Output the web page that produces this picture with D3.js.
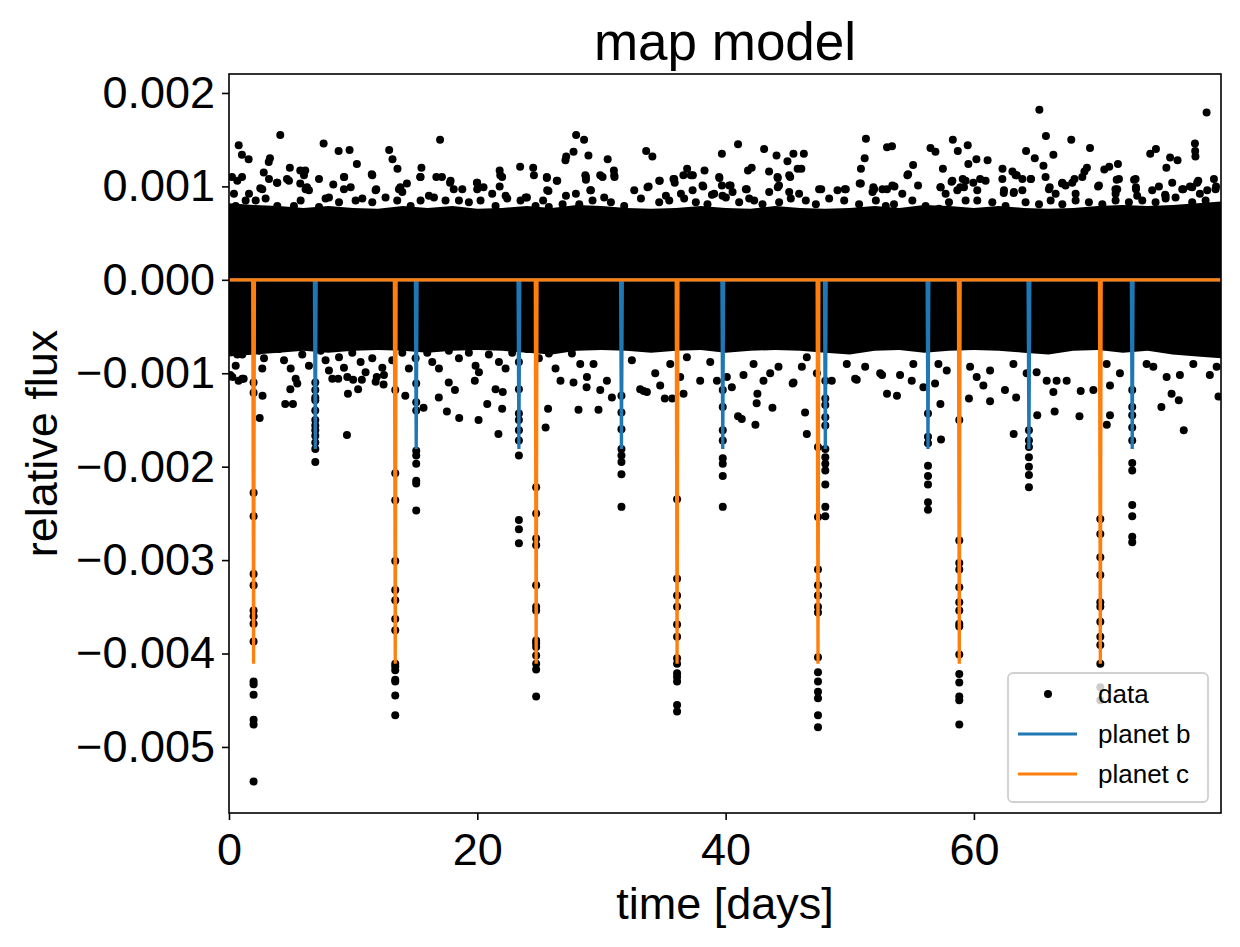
<!DOCTYPE html>
<html>
<head>
<meta charset="utf-8">
<script src="https://cdn.jsdelivr.net/npm/d3@7"></script>
<style>
  body { margin: 0; background: #fff; }
  svg text { font-family: "Liberation Sans", Arial, sans-serif; }
</style>
</head>
<body>
<div id="chart"></div>
<script>
// transit centres (days) and model depths
var planetBTimes = [6.95, 15.08, 23.35, 31.61, 39.77, 48.03, 56.30, 64.43, 72.75]
var planetCTimes = [1.98, 13.39, 24.74, 36.09, 47.44, 58.82, 70.18]
var planetBDepth = -0.00181
var planetCDepth = -0.00411

// solid core of the light curve: upper / lower edge every 2 days
var bandTime = d3.range(0, 81, 2)
var bandTop = [0.00082,0.0008,0.00079,0.00077,0.00079,0.00077,0.00076,0.00079,0.00077,0.00079,0.00076,0.00077,0.00079,0.00077,0.0008,0.00079,0.00077,0.00076,0.00077,0.00079,0.00077,0.00076,0.00079,0.00077,0.00076,0.00077,0.00079,0.00077,0.0008,0.00079,0.00077,0.00079,0.00077,0.00076,0.00077,0.00079,0.0008,0.00079,0.0008,0.00082,0.00084]
var bandBottom = [-0.00082,-0.0008,-0.00078,-0.00076,-0.00078,-0.00076,-0.00075,-0.00076,-0.00078,-0.00076,-0.00075,-0.00076,-0.00078,-0.0008,-0.00076,-0.00075,-0.00076,-0.00078,-0.00076,-0.00075,-0.00078,-0.00076,-0.00075,-0.00076,-0.00078,-0.0008,-0.00076,-0.00075,-0.00078,-0.00076,-0.00075,-0.00076,-0.00078,-0.0008,-0.00076,-0.00075,-0.00078,-0.00076,-0.0008,-0.00082,-0.00084]

// scattered points above the band [time, flux]
var upperPoints = [[4.13,0.00155],[0.78,0.00144],[1.04,0.00134],[1.58,0.00129],[7.62,0.00146],[8.83,0.00138],[9.71,0.00139],[10.3,0.00124],[12.9,0.00139],[13.17,0.00129],[13.57,0.00119],[17.0,0.0015],[15.5,0.0012],[11.5,0.00113],[23.45,0.00121],[24.5,0.0012],[25.6,0.0011],[3.3,0.0013],[3.2,0.00126],[4.9,0.0012],[5.74,0.00117],[6.14,0.00117],[9.28,0.0011],[15.4,0.0011],[16.7,0.0011],[17.15,0.0011],[21.8,0.00117],[21.85,0.00112],[21.8,0.001],[2.8,0.00115],[0.24,0.0011],[1.05,0.0011],[3.86,0.00104],[4.67,0.00108],[8.4,0.00102],[11.86,0.00097],[19.97,0.00104],[20.5,0.00099],[5.74,0.00103],[6.28,0.00099],[2.52,0.00098],[13.8,0.00099],[14.33,0.00103],[17.8,0.00104],[18.1,0.00097],[24.0,0.00088],[25.3,0.00085],
  [27.96,0.00155],[28.6,0.0015],[27.75,0.00137],[27.16,0.00132],[27.1,0.00128],[28.95,0.00133],[30.5,0.00129],[33.6,0.00138],[34.1,0.00132],[31.0,0.00117],[31.05,0.0011],[29.9,0.00112],[28.7,0.00112],[28.75,0.00107],[25.6,0.00109],[26.4,0.00106],[25.73,0.00095],[29.1,0.00096],[33.8,0.001],[34.7,0.00106],[35.8,0.00108],[35.9,0.00104],[36.6,0.00112],[36.9,0.00119],[37.36,0.00112],[38.3,0.00117],[38.2,0.001],[38.9,0.00091],[39.7,0.00135],[41.0,0.00145],[39.5,0.00109],[39.7,0.00101],[40.4,0.00101],[41.7,0.00097],[41.8,0.00117],[42.1,0.0012],[43.1,0.0014],[43.5,0.00116],[44.1,0.00133],[44.2,0.00109],[44.3,0.00101],[44.98,0.00127],[45.46,0.00135],[46.3,0.00135],[45.2,0.0011],[45.8,0.00119],[46.1,0.00119],[47.7,0.00097],[49.6,0.00097],[50.8,0.00103],[50.9,0.00119],[51.2,0.0013],[51.3,0.00151],[51.9,0.00099],[53.0,0.00142],
  [53.4,0.00143],[56.5,0.00141],[56.9,0.00137],[58.3,0.0015],[58.7,0.00138],[59.5,0.00144],[59.55,0.00124],[60.2,0.00129],[61.1,0.00128],[55.1,0.00123],[54.7,0.00113],[55.5,0.00101],[57.5,0.00119],[58.2,0.00105],[65.27,0.00182],[65.8,0.00154],[64.2,0.00138],[64.9,0.0013],[65.6,0.00122],[66.4,0.00134],[67.84,0.0015],[69.35,0.00141],[62.3,0.00119],[63.1,0.00116],[63.45,0.00112],[64.6,0.00108],[62.4,0.00093],[63.2,0.00093],[69.1,0.0012],[68.9,0.00116],[70.5,0.00118],[70.9,0.00121],[71.6,0.00124],[71.5,0.00107],[71.4,0.00097],[70.0,0.001],[68.1,0.00108],[67.1,0.00103],[66.1,0.00099],[74.2,0.00135],[74.66,0.0014],[75.5,0.0012],[75.8,0.00131],[76.4,0.00128],[77.8,0.00146],[77.82,0.00138],[77.84,0.00132],[78.74,0.00179],[72.9,0.00107],[73.05,0.00099],[74.9,0.001],[75.4,0.00091],[76.86,0.00097],[77.4,0.001],[78.07,0.00106],[78.2,0.00092],[79.5,0.001],[53.0,0.00097],[53.6,0.001],[58.9,0.00099],[59.1,0.00108],[59.95,0.00104],[60.5,0.00108],[57.3,0.00099]]

// points along the ragged top edge of the band [time, flux]
var upperEdge = [[0.67,0.00106],[3.22,0.00108],[3.89,0.00104],[4.83,0.00106],[6.04,0.00112],[7.25,0.00108],[9.26,0.0011],[11.54,0.00112],[15.43,0.0011],[17.85,0.00106],[19.99,0.00104],[22.0,0.0011],[24.56,0.00112],[26.44,0.00106],
  [0.4,0.00092],[1.61,0.00092],[2.68,0.00097],[6.17,0.00097],[6.44,0.00096],[8.05,0.00088],[9.26,0.00097],[9.8,0.00099],[11.81,0.00096],[13.69,0.00097],[13.96,0.00094],[16.1,0.0009],[18.79,0.00097],[19.99,0.00097],[21.2,0.00092],[22.28,0.0009],[23.89,0.00088],[25.63,0.00096],
  [0.54,0.00079],[1.34,0.00085],[2.15,0.00085],[2.95,0.00087],[3.89,0.00079],[5.23,0.00079],[5.77,0.00085],[7.25,0.00078],[7.78,0.00087],[8.86,0.00083],[10.2,0.00085],[10.74,0.00087],[11.54,0.00083],[12.61,0.00088],[13.55,0.00085],[14.63,0.00079],[15.43,0.00085],[16.51,0.00088],[17.44,0.00085],[18.52,0.00085],[19.32,0.00083],[20.26,0.00085],[21.47,0.00079],[22.41,0.00087],[23.48,0.00085],[24.69,0.00079],[25.76,0.00078],
  [28.75,0.0011],[30.09,0.0011],[31.03,0.00112],[34.65,0.00106],[35.86,0.00108],[37.2,0.00112],[39.48,0.0011],[40.29,0.00101],[41.63,0.00097],[44.18,0.0011],[44.2,0.00099],[45.12,0.00112],[50.89,0.00103],[51.96,0.00097],
  [27.14,0.0009],[27.94,0.00092],[29.15,0.00096],[30.22,0.00088],[32.64,0.00096],[33.71,0.00099],[35.19,0.0009],[36.4,0.00092],[37.34,0.00096],[38.14,0.00101],[39.08,0.00092],[39.75,0.0009],[40.56,0.00094],[41.9,0.00087],[43.51,0.00094],[45.12,0.00094],[45.92,0.00092],[47.53,0.00097],[49.01,0.00096],[49.68,0.00097],[51.83,0.00094],[52.63,0.00097],
  [26.87,0.00081],[28.21,0.00081],[29.28,0.00085],[30.76,0.00083],[31.83,0.00079],[33.18,0.00087],[34.65,0.00083],[35.46,0.00085],[36.66,0.00087],[37.6,0.00083],[38.54,0.00081],[40.02,0.00088],[41.09,0.00083],[42.3,0.00085],[42.97,0.00081],[44.31,0.00083],[45.25,0.00087],[46.46,0.00085],[47.27,0.00081],[48.34,0.00087],[49.55,0.00085],[50.75,0.00081],[52.1,0.00085],[52.9,0.00079],
  [54.64,0.00112],[58.26,0.00106],[59.33,0.00106],[60.94,0.00106],[62.29,0.00108],[63.36,0.00112],[64.57,0.00108],[63.9,0.00108],[65.77,0.0011],[67.12,0.00104],[67.92,0.00104],[68.73,0.0011],[71.68,0.00108],[73.02,0.00108],[71.54,0.00097],[73.05,0.00097],[75.97,0.00104],[77.98,0.00104],[79.33,0.00108],
  [53.43,0.00101],[54.23,0.00092],[57.32,0.00099],[57.72,0.00092],[58.66,0.00096],[59.2,0.00099],[60.27,0.00096],[62.42,0.00096],[63.22,0.00094],[63.9,0.00096],[66.04,0.00097],[66.58,0.00092],[67.38,0.00101],[68.19,0.00092],[70.07,0.00101],[71.41,0.00092],[73.15,0.0009],[74.36,0.00096],[75.44,0.0009],[76.78,0.00097],[77.58,0.00099],[78.79,0.00096],[79.46,0.00097],
  [53.56,0.00081],[55.04,0.00085],[56.11,0.00079],[57.19,0.00076],[57.99,0.00083],[59.33,0.00085],[60.27,0.00085],[61.48,0.00083],[62.55,0.00079],[64.16,0.00083],[65.24,0.00081],[66.18,0.00085],[67.12,0.00081],[68.19,0.00085],[69.26,0.00083],[70.34,0.00081],[71.41,0.00085],[72.48,0.00083],[73.56,0.00085],[74.63,0.00083],[75.44,0.00087],[76.24,0.00088],[77.58,0.00083],[78.66,0.00085]]

// scattered points below the band [time, flux]
var lowerPoints = [[0.1,-0.00102],[0.77,-0.00108],[1.18,-0.00106],[2.7,-0.00124],[2.47,-0.00148],[4.53,-0.00133],[5.15,-0.00133],[4.94,-0.00117],[5.5,-0.00111],[9.5,-0.00166],[9.58,-0.00122],[10.4,-0.00117],[8.8,-0.00106],[10.0,-0.00107],[10.7,-0.00107],[12.45,-0.00112],[11.9,-0.00104],[14.2,-0.00124],[16.9,-0.00126],[17.55,-0.00141],[18.54,-0.00148],[20.1,-0.0015],[20.8,-0.00133],[21.7,-0.00165],[22.0,-0.00138],[22.05,-0.0012],[25.5,-0.00158],[25.7,-0.00138],[15.67,-0.00137],[17.7,-0.0011],[18.2,-0.00118],[19.8,-0.00108],
  [28.15,-0.00139],[29.76,-0.00139],[29.9,-0.00118],[33.4,-0.00119],[35.1,-0.00127],[35.7,-0.00127],[37.95,-0.00108],[39.3,-0.00108],[41.0,-0.00146],[41.3,-0.00149],[42.4,-0.00155],[42.56,-0.00122],[42.5,-0.00132],[43.77,-0.00137],[45.4,-0.00111],[46.4,-0.00142],[46.54,-0.00165],[50.56,-0.00107],[52.6,-0.00102],[53.0,-0.00122],[26.7,-0.00108],[27.75,-0.0011],[28.8,-0.00115],
  [53.8,-0.00124],[57.3,-0.00133],[57.35,-0.00171],[59.6,-0.00127],[61.3,-0.0013],[63.2,-0.00165],[63.4,-0.00126],[65.1,-0.00145],[66.5,-0.00141],[68.5,-0.00146],[70.7,-0.00155],[70.96,-0.00145],[75.1,-0.00136],[76.9,-0.00161],[76.5,-0.00129],[79.7,-0.00125],[68.6,-0.00119],[66.4,-0.0012],[79.0,-0.00102]]

// points along the ragged bottom edge of the band [time, flux]
var lowerEdge = [[0.67,-0.0008],[0.54,-0.00092],[1.07,-0.0008],[2.42,-0.00076],[2.82,-0.00084],[2.68,-0.00095],[4.03,-0.00074],[4.43,-0.00086],[4.97,-0.00095],[5.37,-0.00106],[5.9,-0.0008],[6.44,-0.00092],[7.38,-0.00076],[7.78,-0.00086],[8.05,-0.00097],[8.32,-0.00106],[8.86,-0.00083],[9.26,-0.00094],[9.53,-0.00104],[9.93,-0.00078],[10.6,-0.00088],[11.0,-0.00099],[11.54,-0.00084],[12.35,-0.00094],[12.48,-0.00102],[11.81,-0.00109],[13.15,-0.00086],[13.96,-0.00078],[14.49,-0.00095],[15.03,-0.00084],[15.97,-0.00078],[16.37,-0.00088],[16.91,-0.00095],[17.71,-0.00076],[18.52,-0.00084],[19.32,-0.00078],[19.86,-0.00092],[20.13,-0.00099],[20.93,-0.0008],[21.74,-0.00088],[22.28,-0.00095],[22.81,-0.00078],[23.35,-0.00088],[24.02,-0.00074],[24.96,-0.00084],[25.76,-0.00079],[26.3,-0.00095],[0.27,-0.00104],[1.07,-0.00106],[21.47,-0.00117],
  [27.62,-0.00079],[28.29,-0.0009],[28.83,-0.00104],[29.36,-0.0009],[30.44,-0.00108],[30.84,-0.00126],[32.45,-0.00086],[33.12,-0.00117],[33.66,-0.0012],[34.33,-0.001],[34.73,-0.00113],[35.54,-0.0009],[36.34,-0.00104],[36.61,-0.00122],[36.88,-0.00083],[38.76,-0.00088],[40.1,-0.00104],[40.5,-0.00115],[41.44,-0.00102],[42.25,-0.0009],[43.05,-0.00108],[43.59,-0.001],[44.26,-0.00093],[45.47,-0.0011],[46.14,-0.00093],[46.54,-0.00083],[47.35,-0.001],[48.55,-0.00108],[49.76,-0.0009],[50.43,-0.00106],[51.24,-0.00093],[52.45,-0.001],
  [54.05,-0.00102],[54.99,-0.00108],[55.12,-0.0009],[55.93,-0.00115],[56.87,-0.00111],[57.14,-0.0009],[57.81,-0.00097],[59.69,-0.00093],[60.22,-0.00104],[60.76,-0.00113],[61.3,-0.00097],[62.5,-0.00118],[63.18,-0.0009],[64.25,-0.001],[65.05,-0.00099],[65.86,-0.00108],[66.66,-0.00108],[67.47,-0.00108],[69.62,-0.00118],[70.69,-0.0009],[70.96,-0.00113],[71.76,-0.001],[73.91,-0.0009],[74.45,-0.00093],[75.52,-0.00104],[75.92,-0.00122],[76.59,-0.00102],[77.67,-0.0009],[79.55,-0.00093]]

// in-transit points, one list per transit
var dipTimes = [1.98, 6.95, 13.39, 15.08, 23.35, 24.74, 31.61, 36.09, 39.77, 47.44, 48.03, 56.30, 58.82, 64.43, 70.18, 72.75]
var dipFlux = [
  [-0.0011,-0.00121,-0.00228,-0.00253,-0.00315,-0.00327,-0.00354,-0.0036,-0.00368,-0.00387,-0.0043,-0.00433,-0.00444,-0.00471,-0.00476,-0.00537],
  [-0.0011,-0.00118,-0.00126,-0.00129,-0.0014,-0.0015,-0.00156,-0.00161,-0.00167,-0.00174,-0.00181,-0.00195],
  [-0.00118,-0.00207,-0.00236,-0.00301,-0.00332,-0.00343,-0.00363,-0.00375,-0.00411,-0.00414,-0.00418,-0.00428,-0.0043,-0.00445,-0.00466],
  [-0.00111,-0.00131,-0.0014,-0.00183,-0.00188,-0.00197,-0.00215,-0.00218,-0.00247],
  [-0.00117,-0.00143,-0.0015,-0.00161,-0.00172,-0.00188,-0.00257,-0.00267,-0.00282],
  [-0.00222,-0.0025,-0.00277,-0.00284,-0.00327,-0.0035,-0.00354,-0.00386,-0.00389,-0.00393,-0.00402,-0.00411,-0.00417,-0.00446],
  [-0.00124,-0.00142,-0.0016,-0.00181,-0.00188,-0.00195,-0.00208,-0.00243],
  [-0.00235,-0.0032,-0.00338,-0.0035,-0.00369,-0.00382,-0.00405,-0.00411,-0.00421,-0.00425,-0.0043,-0.00455,-0.00462],
  [-0.00118,-0.00136,-0.00161,-0.00172,-0.00191,-0.00197,-0.0021,-0.00243],
  [-0.00179,-0.00254,-0.0031,-0.00327,-0.00338,-0.0035,-0.00356,-0.00404,-0.0042,-0.0043,-0.00441,-0.00448,-0.00466,-0.00479],
  [-0.00108,-0.00127,-0.00134,-0.00147,-0.00156,-0.00181,-0.0019,-0.00197,-0.00204,-0.00219,-0.00243,-0.00253],
  [-0.00143,-0.00168,-0.00175,-0.00199,-0.0021,-0.00219,-0.00238,-0.00246],
  [-0.0015,-0.00279,-0.00303,-0.0031,-0.00329,-0.00345,-0.00354,-0.00368,-0.00371,-0.00401,-0.00422,-0.00431,-0.00446,-0.0045,-0.00476],
  [-0.00161,-0.00172,-0.00179,-0.0019,-0.002,-0.00209,-0.00222],
  [-0.00256,-0.00272,-0.00297,-0.00316,-0.00345,-0.0035,-0.00366,-0.00382,-0.00391,-0.00411,-0.00436,-0.0045],
  [-0.00118,-0.00136,-0.00145,-0.00158,-0.00172,-0.00196,-0.00204,-0.00241,-0.00253,-0.00275,-0.00281]
]

var xTicks = [0, 20, 40, 60]
var yTicks = [-0.005, -0.004, -0.003, -0.002, -0.001, 0, 0.001, 0.002]

// layout
const W = 1240, H = 947
const margin = { top: 74, right: 19, bottom: 134, left: 229 }
const width = W - margin.left - margin.right
const height = H - margin.top - margin.bottom

const svg = d3.select("#chart").append("svg")
  .attr("width", W)
  .attr("height", H)

const g = svg.append("g")
  .attr("transform", `translate(${margin.left},${margin.top})`)

const x = d3.scaleLinear().domain([0, 79.9]).range([0, width])
const y = d3.scaleLinear().domain([-0.005707, 0.002203]).range([height, 0])

g.append("clipPath").attr("id", "clip")
  .append("rect").attr("width", width).attr("height", height)

const plot = g.append("g").attr("clip-path", "url(#clip)")

// solid band
const band = bandTime.map((t, i) => [t, bandTop[i], bandBottom[i]])
plot.append("path")
  .datum(band)
  .attr("d", d3.area().x(d => x(d[0])).y0(d => y(d[2])).y1(d => y(d[1])))
  .attr("fill", "#000")

// all scattered data points
var dots = upperPoints.concat(upperEdge, lowerPoints, lowerEdge)
dipTimes.forEach((t, i) => {
  dipFlux[i].forEach(f => dots.push([t, f]))
})
plot.selectAll("circle.pt")
  .data(dots)
  .enter()
  .append("circle")
  .attr("class", "pt")
  .attr("cx", d => x(d[0]))
  .attr("cy", d => y(d[1]))
  .attr("r", 4)
  .attr("fill", "#000")

// transit model lines
function model(times, depth) {
  var pts = [[0, 0]]
  times.forEach(t => {
    pts.push([t - 0.07, 0], [t, depth], [t + 0.07, 0])
  })
  pts.push([79.9, 0])
  return pts
}
const line = d3.line().x(d => x(d[0])).y(d => y(d[1]))
plot.append("path")
  .datum(model(planetBTimes, planetBDepth))
  .attr("d", line)
  .attr("fill", "none")
  .attr("stroke", "#1f77b4")
  .attr("stroke-width", 3.3)
plot.append("path")
  .datum(model(planetCTimes, planetCDepth))
  .attr("d", line)
  .attr("fill", "none")
  .attr("stroke", "#ff7f0e")
  .attr("stroke-width", 3.3)

// axes
const xAxis = g.append("g")
  .attr("transform", `translate(0,${height})`)
  .call(d3.axisBottom(x).tickValues(xTicks).tickFormat(d3.format("d")).tickSize(7).tickPadding(13))
const yAxis = g.append("g")
  .call(d3.axisLeft(y).tickValues(yTicks).tickFormat(d3.format(".3f")).tickSize(7).tickPadding(7))
;[xAxis, yAxis].forEach(a => {
  a.select(".domain").remove()
  a.selectAll(".tick line").attr("stroke", "#000").attr("stroke-width", 1.6)
  a.selectAll(".tick text").attr("fill", "#000").style("font-size", "45px")
})

g.append("rect")
  .attr("width", width)
  .attr("height", height)
  .attr("fill", "none")
  .attr("stroke", "#000")
  .attr("stroke-width", 1.6)

// labels
svg.append("text")
  .attr("x", margin.left + width / 2)
  .attr("y", 60)
  .attr("text-anchor", "middle")
  .style("font-size", "53px")
  .text("map model")
svg.append("text")
  .attr("x", margin.left + width / 2)
  .attr("y", 919)
  .attr("text-anchor", "middle")
  .style("font-size", "45px")
  .text("time [days]")
svg.append("text")
  .attr("transform", `translate(57,${margin.top + height / 2}) rotate(-90)`)
  .attr("text-anchor", "middle")
  .style("font-size", "45px")
  .text("relative flux")

// legend
const lg = svg.append("g").attr("transform", "translate(1008,673)")
lg.append("rect")
  .attr("width", 200)
  .attr("height", 129)
  .attr("rx", 5)
  .attr("fill", "#fff")
  .attr("fill-opacity", 0.8)
  .attr("stroke", "#d0d0d0")
  .attr("stroke-width", 1.8)
lg.append("circle").attr("cx", 40).attr("cy", 21).attr("r", 4).attr("fill", "#000")
lg.append("line").attr("x1", 10).attr("x2", 69).attr("y1", 61).attr("y2", 61)
  .attr("stroke", "#1f77b4").attr("stroke-width", 2.8)
lg.append("line").attr("x1", 10).attr("x2", 69).attr("y1", 101).attr("y2", 101)
  .attr("stroke", "#ff7f0e").attr("stroke-width", 2.8)
var legendLabels = ["data", "planet b", "planet c"]
lg.selectAll("text.lab")
  .data(legendLabels)
  .enter()
  .append("text")
  .attr("class", "lab")
  .attr("x", 90)
  .attr("y", (d, i) => 30 + i * 40)
  .style("font-size", "26px")
  .text(d => d)
</script>
</body>
</html>
